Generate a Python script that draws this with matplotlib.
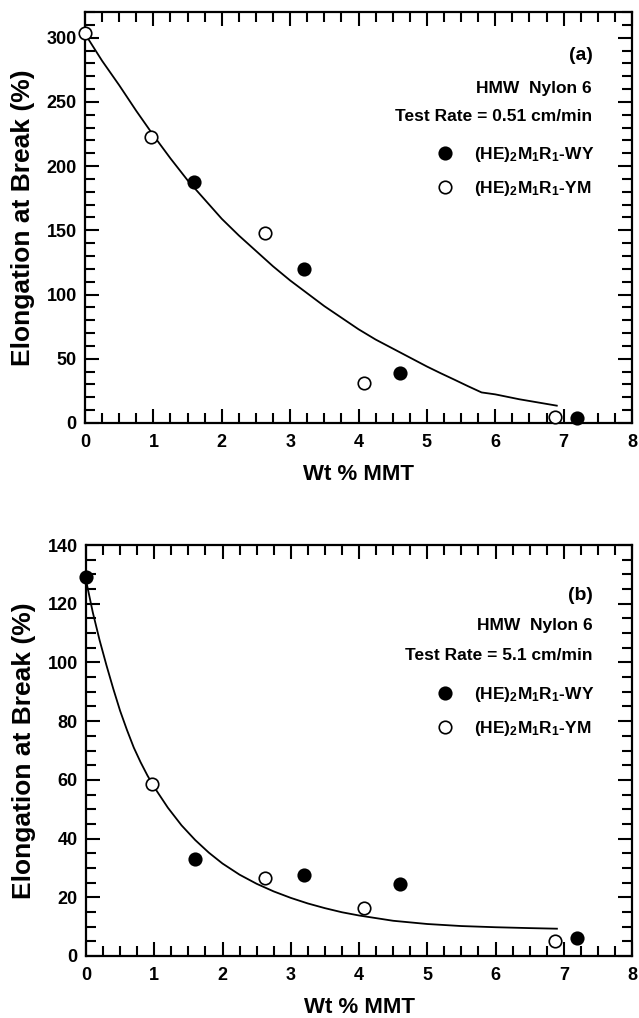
import numpy as np
import matplotlib
matplotlib.use('Agg')
from matplotlib import pyplot as plt
from matplotlib.ticker import MultipleLocator

plt.rcParams['font.family'] = ['Liberation Sans', 'DejaVu Sans']
plt.rcParams['font.weight'] = 'bold'
plt.rcParams['mathtext.fontset'] = 'custom'
plt.rcParams['mathtext.bf'] = 'Liberation Sans:bold'
plt.rcParams['mathtext.rm'] = 'Liberation Sans:bold'
plt.rcParams['mathtext.default'] = 'bf'

# panel (a): test rate 0.51 cm/min
a_wy_x = [1.6, 3.2, 4.6, 7.2]
a_wy_y = [188, 120, 39, 4]
a_ym_x = [0.0, 0.97, 2.63, 4.08, 6.87]
a_ym_y = [304, 223, 148, 31, 5]
a_fit_x = [0, 0.25, 0.5, 0.75, 1.0, 1.25, 1.5, 1.75, 2.0, 2.25, 2.5, 2.75, 3.0,
           3.25, 3.5, 3.75, 4.0, 4.25, 4.5, 4.75, 5.0, 5.2, 5.4, 5.6, 5.8, 6.0, 6.35, 6.9]
a_fit_y = [303, 282, 263, 243, 224, 206, 189, 174, 159, 146, 134, 122, 111,
           101, 91, 82, 73, 65, 58, 51, 44, 38.8, 33.8, 28.7, 23.8, 22.3, 18.5, 13.5]

# panel (b): test rate 5.1 cm/min
b_wy_x = [0.0, 1.6, 3.2, 4.6, 7.2]
b_wy_y = [129, 33, 27.5, 24.5, 6]
b_ym_x = [0.97, 2.63, 4.08, 6.87]
b_ym_y = [58.5, 26.5, 16.3, 5]
b_fit_x = [0, 0.1, 0.2, 0.3, 0.4, 0.5, 0.6, 0.7, 0.8, 0.9, 1.0, 1.2, 1.4, 1.6, 1.8,
           2.0, 2.25, 2.5, 2.75, 3.0, 3.25, 3.5, 3.75, 4.0, 4.5, 5.0, 5.5, 6.0, 6.5, 6.9]
b_fit_y = [128, 117, 107.5, 99, 91, 83.5, 77, 71, 66, 61.5, 57.5, 50.5, 44.5, 39.5, 35.2,
           31.5, 27.7, 24.6, 22.0, 19.8, 17.9, 16.3, 14.9, 13.8, 12.0, 10.9, 10.2, 9.8, 9.5, 9.3]

lab_wy = r'(HE)$_2$M$_1$R$_1$-WY'
lab_ym = r'(HE)$_2$M$_1$R$_1$-YM'

fig = plt.figure(figsize=(6.39, 10.18), dpi=100)
W, H = 639.0, 1018.0


def panel(box, fx, fy, wx, wy, yx, yy, ymax, ymaj, ymin, tag, rate, ty, legy):
    l, t, r, b = box
    ax = fig.add_axes([l/W, 1-b/H, (r-l)/W, (b-t)/H])
    ax.plot(fx, fy, c='k', lw=1.3, zorder=2)
    ax.plot(wx, wy, 'o', ms=9, mfc='k', mec='k', mew=1.2, clip_on=False,
            zorder=3, label=lab_wy)
    ax.plot(yx, yy, 'o', ms=9, mfc='white', mec='k', mew=1.2, clip_on=False,
            zorder=3, label=lab_ym)
    ax.set_xlim(0, 8)
    ax.set_ylim(0, ymax)
    ax.xaxis.set_major_locator(MultipleLocator(1))
    ax.xaxis.set_minor_locator(MultipleLocator(0.25))
    ax.yaxis.set_major_locator(MultipleLocator(ymaj))
    ax.yaxis.set_minor_locator(MultipleLocator(ymin))
    ax.tick_params(which='both', direction='in', top=True, right=True, width=1.5)
    ax.tick_params(which='major', length=10, labelsize=13)
    ax.tick_params(which='minor', length=7)
    ax.tick_params(axis='x', pad=8)
    ax.tick_params(axis='y', pad=6)
    for s in ax.spines.values():
        s.set_linewidth(1.6)
    ax.set_xlabel('Wt % MMT', fontsize=16, fontweight='bold', labelpad=9)
    ax.set_ylabel('Elongation at Break (%)', fontsize=19, fontweight='bold', labelpad=8)
    ax.text(0.929, ty[0], tag, transform=ax.transAxes, ha='right', va='center', fontsize=14)
    ax.text(0.927, ty[1], 'HMW  Nylon 6', transform=ax.transAxes, ha='right', va='center', fontsize=12.5)
    ax.text(0.927, ty[2], rate, transform=ax.transAxes, ha='right', va='center', fontsize=12.5)
    ax.legend(loc='upper right', bbox_to_anchor=(0.944, legy), frameon=False,
              fontsize=12.5, handletextpad=1.2, labelspacing=0.86,
              handlelength=1.0, borderaxespad=0)
    return ax


panel((85, 12, 632, 423), a_fit_x, a_fit_y, a_wy_x, a_wy_y, a_ym_x, a_ym_y,
      320, 50, 10, '(a)', 'Test Rate = 0.51 cm/min', (0.895, 0.815, 0.745), 0.693)
panel((86, 545, 632, 956), b_fit_x, b_fit_y, b_wy_x, b_wy_y, b_ym_x, b_ym_y,
      140, 20, 5, '(b)', 'Test Rate = 5.1 cm/min', (0.878, 0.803, 0.732), 0.676)

fig.savefig('out.png', dpi=100)
